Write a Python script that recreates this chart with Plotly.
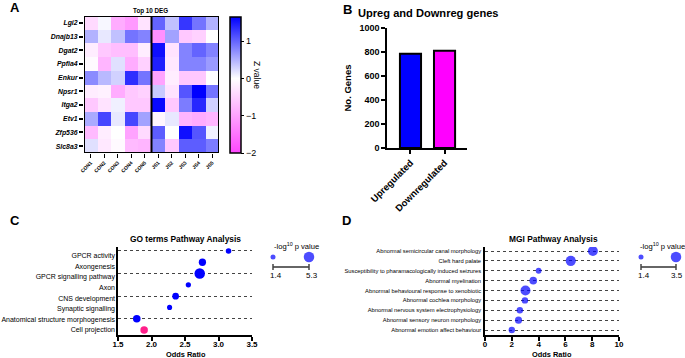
import plotly.graph_objects as go

W, H = 685, 358
FONT = "Liberation Sans, Arial, sans-serif"

# ---------------- data ----------------
genes = ["Lgi2", "Dnajb13", "Dgat2", "Ppfia4", "Enkur", "Npsr1", "Itga2", "Etv1", "Zfp536", "Slc8a3"]
samples = ["CON1", "CON2", "CON3", "CON4", "CON5", "JS1", "JS2", "JS3", "JS4", "JS5"]
z_lgi2 = [-0.4, 0.05, -0.9, -1.1, -0.3, 1.0, 0.4, 1.3, 0.9, 0.5]
z_dnajb13 = [0.5, 0.15, 0.4, 0.9, 0.8, -1.2, 0.6, -0.6, -0.5, 0.0]
z_dgat2 = [-0.2, -0.6, -0.7, -0.7, -0.2, 1.55, -0.3, 0.8, 1.0, 0.8]
z_ppfia4 = [-0.05, -0.8, 0.2, -0.9, -0.5, 1.45, -0.25, 0.8, 0.8, 0.65]
z_enkur = [0.75, 0.45, 0.3, 1.35, 0.9, -1.0, -0.2, -0.6, -0.6, 0.0]
z_npsr1 = [-0.2, -0.15, -0.9, -0.6, -0.5, 0.35, -0.3, 1.1, 1.65, 0.9]
z_itga2 = [-0.6, -0.3, 0.1, -0.6, -0.6, 1.6, -0.6, 0.85, 1.4, 0.3]
z_etv1 = [0.55, 1.2, 0.15, 1.2, 0.6, -0.1, 0.15, -0.8, -0.9, -0.8]
z_zfp536 = [-0.75, -0.2, 0.0, -1.0, -0.4, 1.05, 0.0, 1.55, 1.1, 0.1]
z_slc8a3 = [0.2, -0.25, -0.05, -0.75, -0.8, 0.8, -0.6, 1.05, 1.05, 0.85]
z_rows = [z_lgi2, z_dnajb13, z_dgat2, z_ppfia4, z_enkur, z_npsr1, z_itga2, z_etv1, z_zfp536, z_slc8a3]
z_ticks = [-2, -1, 0, 1]

reg_categories = ["Upregulated", "Downregulated"]
reg_counts = [785, 810]
reg_ticks = [0, 200, 400, 600, 800, 1000]

go_terms = ["GPCR activity", "Axongenesis", "GPCR signalling pathway", "Axon", "CNS development",
            "Synaptic signalling", "Anatomical structure morphogenesis", "Cell projection"]
go_odds = [3.15, 2.76, 2.72, 2.55, 2.36, 2.27, 1.78, 1.89]
go_logp = [1.8, 3.0, 5.3, 1.6, 2.6, 1.5, 3.2, 3.2]
go_highlight = "Cell projection"
go_p_range = [1.4, 5.3]
go_x_ticks = [1.5, 2.0, 2.5, 3.0, 3.5]

mgi_terms = ["Abnormal semicircular canal morphology", "Cleft hard palate",
             "Susceptibility to pharamacologically induced seizures", "Abnormal myelination",
             "Abnormal behavioural response to xenobiotic", "Abnormal cochlea morphology",
             "Abnormal nervous system electrophysiology", "Abnormal sensory neuron morphology",
             "Abnormal emotion affect behaviour"]
mgi_odds = [8.05, 6.4, 4.0, 3.6, 3.02, 2.98, 2.6, 2.5, 2.0]
mgi_logp = [3.3, 3.4, 1.7, 2.4, 3.3, 1.95, 1.95, 2.2, 1.95]
mgi_p_range = [1.4, 3.5]
mgi_x_ticks = [0, 2, 4, 6, 8, 10]

# ---------------- helpers ----------------
def px_x(a, b):
    return [a / W, b / W]

def px_y(top, bottom):
    return [1 - bottom / H, 1 - top / H]

D_MIN, D_MAX = 5.0, 10.5
def dot_size(v, rng):
    return D_MIN + (v - rng[0]) / (rng[1] - rng[0]) * (D_MAX - D_MIN)

BLUE = "#0000FF"
MAGENTA = "#FF00FF"
PINK = "#FF1F8A"

fig = go.Figure()

# ---------------- Panel A: heatmap ----------------
zmin, zmax = -2, 1.65
mid = (0 - zmin) / (zmax - zmin)
fig.add_trace(go.Heatmap(
    z=z_rows, x=list(range(len(samples))), y=list(range(len(genes))),
    zmin=zmin, zmax=zmax,
    colorscale=[[0, "rgb(255,70,255)"], [mid, "rgb(255,255,255)"], [1, "rgb(0,0,255)"]],
    xaxis="x", yaxis="y", showscale=True,
    colorbar=dict(x=230 / W, xanchor="left", xpad=0, y=1 - 17 / H, yanchor="top", ypad=0,
                  lenmode="pixels", len=136, thickness=11, outlinewidth=1.5, outlinecolor="black",
                  tickvals=z_ticks, ticks="outside", ticklen=3, tickwidth=1.2, tickcolor="black",
                  tickfont=dict(size=9, family=FONT, color="black")),
    hoverinfo="skip",
))

# ---------------- Panel B: bars ----------------
fig.add_trace(go.Bar(
    x=reg_categories, y=reg_counts, xaxis="x2", yaxis="y2",
    marker=dict(color=[BLUE, MAGENTA], line=dict(color="black", width=2)),
    width=0.62, showlegend=False,
))

# ---------------- Panel C: GO bubbles ----------------
fig.add_trace(go.Scatter(
    x=go_odds, y=go_terms, xaxis="x3", yaxis="y3", mode="markers",
    marker=dict(size=[dot_size(v, go_p_range) for v in go_logp],
                color=[PINK if t == go_highlight else BLUE for t in go_terms],
                line=dict(width=0), opacity=1),
    showlegend=False,
))
# invisible companion trace so the GO label axis gets drawn
fig.add_trace(go.Scatter(
    x=go_odds, y=list(range(len(go_terms))), xaxis="x3", yaxis="y6", mode="markers",
    marker=dict(size=1, opacity=0), showlegend=False, hoverinfo="skip",
))

# ---------------- Panel D: MGI bubbles ----------------
fig.add_trace(go.Scatter(
    x=mgi_odds, y=mgi_terms, xaxis="x4", yaxis="y4", mode="markers",
    marker=dict(size=[dot_size(v, mgi_p_range) for v in mgi_logp], color=BLUE, line=dict(width=0)),
    showlegend=False,
))

# ---------------- size keys (pixel overlay axis) ----------------
def size_key(x_small, x_big, y_dot, rng):
    fig.add_trace(go.Scatter(
        x=[x_small, x_big], y=[y_dot, y_dot], xaxis="x5", yaxis="y5", mode="markers",
        marker=dict(size=[dot_size(v, rng) for v in rng], color=BLUE, line=dict(width=0)),
        showlegend=False, hoverinfo="skip",
    ))

size_key(273, 309, 257, go_p_range)
size_key(641, 676, 257, mgi_p_range)

# ---------------- layout ----------------
layout = dict(
    width=W, height=H, margin=dict(l=0, r=0, t=0, b=0, autoexpand=False),
    paper_bgcolor="white", plot_bgcolor="rgba(0,0,0,0)",
    font=dict(family=FONT, color="black"),
    showlegend=False,
    # heatmap axes
    xaxis=dict(domain=px_x(84, 219), anchor="y", range=[-0.5, 9.5], automargin=False,
               tickvals=list(range(len(samples))), ticktext=[f"<b>{s}</b>" for s in samples],
               tickangle=-45,
               tickfont=dict(size=5, family=FONT, color="black"), ticks="outside", ticklen=4,
               tickwidth=1.2, tickcolor="black", showgrid=False, zeroline=False, showline=False),
    yaxis=dict(domain=px_y(16, 153), anchor="x", range=[9.5, -0.5], automargin=False,
               tickvals=list(range(len(genes))), ticktext=[f"<b><i>{g}</i></b>" for g in genes],
               tickfont=dict(size=6.9, family=FONT, color="black"), ticks="outside", ticklen=4,
               tickwidth=1.5, tickcolor="black", showgrid=False, zeroline=False, showline=False),
    # bar axes
    xaxis2=dict(domain=px_x(387, 467), anchor="y2", type="category", range=[-0.69, 1.66],
                automargin=False,
                tickangle=-45, ticktext=[f"<b>{c}</b>" for c in reg_categories], tickvals=reg_categories,
                tickfont=dict(size=9.5, family=FONT, color="black"), ticks="outside", ticklen=4,
                tickwidth=1.5, tickcolor="black", showline=True, linecolor="black", linewidth=1.5,
                showgrid=False),
    yaxis2=dict(domain=px_y(28, 148), anchor="x2", range=[0, 1000], tickvals=reg_ticks,
                automargin=False,
                ticktext=[f"<b>{t}</b>" for t in reg_ticks],
                tickfont=dict(size=9, family=FONT, color="black"), ticks="outside", ticklen=4,
                tickwidth=1.5, tickcolor="black", showline=True, linecolor="black", linewidth=1.5,
                showgrid=False, zeroline=False,
                title=dict(text="<b>No. Genes</b>", font=dict(size=9.5, family=FONT, color="black"),
                           standoff=6)),
    # GO axes
    xaxis3=dict(domain=px_x(118, 252), anchor="y3", range=[1.5, 3.5], tickvals=go_x_ticks,
                automargin=False,
                ticktext=[f"<b>{t:.1f}</b>" for t in go_x_ticks],
                tickfont=dict(size=8, family=FONT, color="black"), ticks="outside", ticklen=4,
                tickwidth=1.5, tickcolor="black", showline=True, linecolor="black", linewidth=1.5,
                showgrid=False, zeroline=False, ticklabelstandoff=-3),
    yaxis3=dict(domain=px_y(247, 335), anchor="x3", type="category", categoryarray=go_terms,
                automargin=False, range=[7.44, -0.35], showticklabels=False,
                ticks="", showline=True, linecolor="black", linewidth=1.5,
                showgrid=True, gridcolor="#444", griddash="dot", gridwidth=1),
    # GO label axis (labels sit slightly off the dotted guide lines, as in the original)
    yaxis6=dict(domain=px_y(250.4, 335.3), anchor="x3", range=[len(go_terms) - 0.5, -0.5],
                automargin=False, tickvals=list(range(len(go_terms))), ticktext=go_terms,
                tickfont=dict(size=7.0, family=FONT, color="black"), ticks="",
                showline=False, showgrid=False, zeroline=False, ticklabelstandoff=2),
    # MGI axes
    xaxis4=dict(domain=px_x(485, 619), anchor="y4", range=[0, 10], tickvals=mgi_x_ticks,
                automargin=False,
                ticktext=[f"<b>{t}</b>" for t in mgi_x_ticks],
                tickfont=dict(size=8, family=FONT, color="black"), ticks="outside", ticklen=4,
                tickwidth=1.5, tickcolor="black", showline=True, linecolor="black", linewidth=1.5,
                showgrid=False, zeroline=False, ticklabelstandoff=-3),
    yaxis4=dict(domain=px_y(247, 335), anchor="x4", type="category", categoryarray=mgi_terms,
                automargin=False,
                range=[8.506, -0.405], tickfont=dict(size=5.8, family=FONT, color="black"),
                ticks="", showline=True, linecolor="black", linewidth=1.5,
                showgrid=True, gridcolor="#444", griddash="dot", gridwidth=1, ticklabelstandoff=1),
    # pixel overlay
    xaxis5=dict(domain=[0, 1], range=[0, W], visible=False, anchor="y5", fixedrange=True,
                automargin=False),
    yaxis5=dict(domain=[0, 1], range=[H, 0], visible=False, anchor="x5", fixedrange=True,
                automargin=False),
)
fig.update_layout(**layout)

# heatmap border and group separator
fig.add_shape(type="rect", xref="x", yref="y", x0=-0.5, x1=9.5, y0=-0.5, y1=9.5,
              line=dict(color="black", width=2))
fig.add_shape(type="line", xref="x", yref="y", x0=4.5, x1=4.5, y0=-0.5, y1=9.5,
              line=dict(color="black", width=2))

# size-key bars
for xa, xb in [(273, 309), (641, 676)]:
    fig.add_shape(type="line", xref="x5", yref="y5", x0=xa, x1=xb, y0=267, y1=267,
                  line=dict(color="#666", width=2))
    for xe in (xa, xb):
        fig.add_shape(type="line", xref="x5", yref="y5", x0=xe, x1=xe, y0=264, y1=270,
                      line=dict(color="#444", width=1.5))

def txt(x, y, s, size, xanchor="center", yanchor="middle", angle=0):
    fig.add_annotation(x=x / W, y=1 - y / H, xref="paper", yref="paper", text=s, showarrow=False,
                       xanchor=xanchor, yanchor=yanchor, textangle=angle,
                       font=dict(size=size, family=FONT, color="black"))

# panel letters
txt(8, 8, "<b>A</b>", 13, xanchor="left")
txt(341, 9, "<b>B</b>", 13, xanchor="left")
txt(8, 220, "<b>C</b>", 13, xanchor="left")
txt(340, 220, "<b>D</b>", 13, xanchor="left")

# titles
txt(150, 11, "<b>Top 10 DEG</b>", 6.3)
txt(428, 13, "<b>Upreg and Downreg genes</b>", 11.1)
txt(185, 239, "<b>GO terms Pathway Analysis</b>", 8.4)
txt(553, 239, "<b>MGI Pathway Analysis</b>", 8.4)
txt(186, 354, "<b>Odds Ratio</b>", 7.4)
txt(552, 354, "<b>Odds Ratio</b>", 7.4)

# colorbar title
txt(257, 75, "Z value", 8.5, angle=90)

# size key labels
txt(272, 246, "-log<sup>10</sup> p value", 7.6, xanchor="left")
txt(276, 275, f"{go_p_range[0]}", 8)
txt(312, 275, f"{go_p_range[1]}", 8)
txt(638, 246, "-log<sup>10</sup> p value", 7.6, xanchor="left")
txt(644, 275, f"{mgi_p_range[0]}", 8)
txt(677, 275, f"{mgi_p_range[1]}", 8)

fig.write_html("out.html", config={"displayModeBar": False},
               post_script="document.body.style.margin='0';document.body.style.overflow='hidden';")
